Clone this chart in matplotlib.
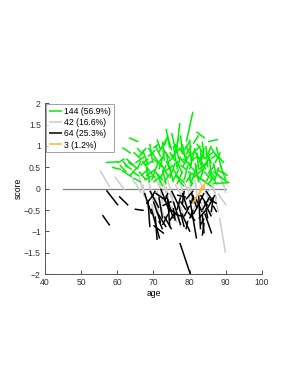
import matplotlib
matplotlib.use("Agg")
import matplotlib.pyplot as plt

plt.rcParams['font.family'] = ['Liberation Sans', 'DejaVu Sans']

# segments per group: (age0, score0, age1, score1)
green_segs = [
    (56.8, 0.61, 60.2, 0.63), (63.2, 1.19, 65.8, 1.10), (61.4, 0.96, 63.7, 0.83),
    (80.9, 1.80, 79.1, 1.10), (77.3, 1.53, 76.3, 0.83), (81.9, 1.33, 84.2, 1.18),
    (85.1, 1.10, 87.8, 1.15), (87.4, 0.98, 88.8, 0.47), (86.5, 0.12, 91.0, 0.14),
    (60.7, 0.55, 62.5, 0.39), (61.2, 0.43, 63.9, 0.28), (58.5, 0.50, 61.0, 0.45),
    (63.0, 0.62, 65.5, 0.48), (64.5, 0.85, 66.5, 0.70), (65.0, 0.60, 67.5, 0.75),
    (66.0, 0.40, 68.0, 0.20), (67.0, 0.90, 68.5, 0.55), (68.0, 0.30, 70.5, 0.45),
    (69.0, 1.05, 69.8, 0.60), (69.5, 0.20, 71.0, 0.55), (70.0, 0.70, 72.5, 0.50),
    (70.5, 1.00, 72.0, 0.75), (71.0, 0.35, 72.5, 0.05), (71.5, 0.85, 73.5, 1.15),
    (72.0, 0.60, 74.0, 0.30), (72.5, 1.10, 73.0, 0.65), (73.0, 0.40, 75.5, 0.55),
    (73.5, 0.85, 74.5, 0.45), (74.0, 1.20, 75.0, 0.90), (74.5, 0.25, 76.0, 0.60),
    (75.0, 0.75, 77.5, 0.95), (75.5, 1.00, 76.5, 0.50), (76.0, 0.30, 78.5, 0.15),
    (76.5, 0.65, 78.0, 0.35), (77.0, 0.95, 79.5, 0.70), (77.5, 1.25, 78.0, 0.80),
    (78.0, 0.50, 80.0, 0.80), (78.5, 0.20, 79.5, 0.55), (79.0, 1.00, 81.0, 0.65),
    (79.5, 0.40, 82.0, 0.30), (80.0, 1.15, 80.5, 0.55), (80.5, 0.80, 83.0, 1.00),
    (81.0, 0.25, 83.5, 0.45), (81.5, 0.60, 82.5, 0.15), (82.0, 1.05, 84.0, 0.80),
    (82.5, 0.45, 85.0, 0.60), (83.0, 0.90, 83.5, 0.35), (83.5, 0.20, 86.0, 0.05),
    (84.0, 0.70, 86.5, 0.85), (84.5, 1.00, 85.0, 0.50), (85.0, 0.35, 87.0, 0.55),
    (85.5, 0.75, 86.0, 0.20), (86.0, 0.95, 88.0, 0.70), (86.5, 0.40, 89.0, 0.25),
    (87.0, 0.60, 88.5, 0.85), (88.0, 0.30, 90.5, 0.15), (67.5, 0.55, 70.0, 0.65),
    (68.5, 0.75, 70.5, 0.90), (66.5, 0.30, 68.5, 0.45), (64.0, 0.40, 66.0, 0.30),
    (62.5, 0.70, 64.5, 0.55), (60.0, 0.60, 62.0, 0.70), (65.5, 0.95, 67.0, 0.80),
    (70.0, 0.15, 72.0, 0.30), (71.5, 0.45, 73.0, 0.85), (73.0, 0.15, 74.5, 0.35),
    (74.0, 0.60, 76.0, 0.80), (75.5, 0.45, 77.0, 0.25), (76.0, 0.85, 77.0, 1.20),
    (77.5, 0.55, 79.0, 0.45), (78.5, 0.90, 80.0, 1.10), (79.0, 0.15, 80.5, 0.35),
    (80.0, 0.45, 81.5, 0.95), (81.5, 0.85, 83.0, 0.65), (82.0, 0.30, 84.5, 0.15),
    (83.0, 0.55, 84.0, 0.95), (84.0, 0.40, 85.5, 0.25), (85.0, 0.80, 86.0, 1.00),
    (86.5, 0.60, 87.5, 0.30), (87.5, 0.45, 89.5, 0.35), (72.5, 0.95, 74.5, 0.70),
    (73.5, 1.40, 74.5, 0.95), (75.0, 1.30, 76.0, 0.95), (71.0, 1.15, 72.0, 0.90),
    (69.5, 0.85, 71.5, 0.60), (68.0, 0.50, 69.0, 0.15), (67.0, 0.65, 69.0, 0.40),
    (66.0, 0.75, 68.0, 0.95), (64.5, 0.25, 66.5, 0.15), (76.5, 0.10, 78.0, 0.40),
    (78.0, 0.70, 80.5, 0.55), (80.5, 0.15, 82.0, 0.55), (82.5, 0.75, 84.5, 0.45),
    (84.5, 0.15, 86.0, 0.40), (86.0, 0.30, 87.5, 0.10), (88.5, 0.55, 90.0, 0.20),
    (74.5, 0.50, 75.5, 0.15), (72.0, 0.25, 73.5, 0.55), (70.5, 0.40, 72.5, 0.20),
    (79.5, 0.60, 81.5, 0.40), (81.0, 1.05, 82.5, 1.25), (83.5, 1.10, 84.0, 0.70),
    (77.0, 0.75, 78.5, 0.60), (62.0, 0.55, 64.0, 0.45), (63.5, 0.30, 65.5, 0.50),
    (65.5, 0.45, 66.5, 0.65), (61.5, 0.65, 63.0, 0.50), (66.5, 0.55, 68.5, 0.70),
    (68.5, 0.95, 70.0, 0.80), (69.0, 0.40, 70.5, 0.25), (71.0, 0.55, 72.5, 0.75),
    (72.5, 0.45, 73.5, 0.10), (73.5, 0.65, 75.0, 0.35), (74.5, 0.85, 76.0, 0.65),
    (75.5, 0.20, 77.0, 0.45), (76.5, 0.45, 77.5, 0.75), (77.0, 0.20, 78.5, 0.05),
    (78.0, 1.05, 79.0, 0.60), (79.0, 0.80, 80.5, 1.00), (79.5, 0.25, 81.0, 0.10),
    (80.5, 0.65, 82.0, 0.75), (81.5, 0.40, 83.0, 0.20), (82.0, 0.85, 82.5, 0.45),
    (83.0, 0.25, 84.5, 0.60), (84.0, 0.55, 85.5, 0.70), (84.5, 0.85, 86.0, 0.60),
    (85.5, 0.45, 87.0, 0.25), (86.0, 0.70, 87.5, 0.80), (87.0, 0.20, 88.0, 0.50),
    (88.0, 0.75, 89.5, 0.60), (89.0, 0.40, 90.5, 0.30), (70.0, 0.95, 71.5, 1.05),
    (73.0, 1.00, 74.0, 1.25), (76.0, 1.05, 77.0, 0.70), (80.0, 0.35, 80.5, 0.05),
    (82.5, 0.60, 83.5, 0.80), (67.5, 0.20, 69.5, 0.30), (85.0, 0.10, 86.5, 0.25),
]

gray_segs = [
    (55.2, 0.43, 57.9, 0.04), (59.3, 0.28, 62.1, -0.04), (87.8, -0.11, 90.1, -0.39),
    (88.3, -0.68, 89.9, -1.50), (66.0, 0.30, 67.5, -0.20), (67.0, 0.10, 68.5, -0.45),
    (68.0, 0.40, 70.0, -0.30), (69.0, 0.05, 71.0, -0.60), (70.0, 0.30, 72.0, 0.00),
    (71.0, -0.05, 73.0, -0.70), (72.0, 0.35, 73.5, -0.10), (73.0, -0.20, 75.0, -0.55),
    (74.0, 0.20, 75.5, -0.30), (75.0, -0.40, 76.5, -0.80), (76.0, 0.10, 78.0, -0.20),
    (77.0, -0.30, 78.5, -0.65), (78.0, 0.25, 79.5, -0.05), (79.0, -0.45, 80.5, -0.60),
    (80.0, 0.10, 81.0, -0.35), (81.0, -0.50, 82.5, -0.20), (82.0, 0.30, 83.5, 0.05),
    (83.0, -0.30, 84.5, -0.65), (84.0, 0.05, 85.5, -0.35), (85.0, -0.50, 86.5, -0.60),
    (86.0, 0.20, 87.5, -0.25), (87.0, -0.20, 88.0, -0.55), (88.0, 0.35, 89.5, 0.05),
    (89.0, 0.20, 90.0, -0.10), (65.0, 0.15, 66.5, -0.10), (63.5, 0.35, 65.0, 0.10),
    (70.5, -0.20, 71.5, -0.55), (73.5, 0.05, 74.5, -0.40), (76.5, -0.55, 77.5, -0.90),
    (79.5, 0.05, 80.0, -0.30), (82.5, -0.55, 83.5, -0.80), (84.5, -0.10, 86.0, 0.00),
    (85.5, 0.15, 87.0, -0.10), (71.5, 0.20, 72.5, -0.35), (69.5, -0.35, 70.5, -0.70),
    (74.5, -0.10, 76.0, -0.45), (77.5, 0.15, 78.5, -0.35), (81.5, 0.20, 82.0, -0.15),
]

black_segs = [
    (57.0, -0.04, 60.2, -0.39), (60.5, -0.18, 63.0, -0.39), (64.8, -0.48, 67.3, -0.51),
    (55.9, -0.62, 57.9, -0.86), (77.3, -1.27, 80.2, -2.00), (69.4, -0.47, 71.7, -1.17),
    (70.0, -0.86, 72.9, -1.05), (80.1, -0.27, 81.9, -1.17), (84.2, -0.58, 86.1, -1.05),
    (77.8, -0.58, 80.1, -1.01), (67.5, -0.10, 69.5, -0.60), (68.0, -0.35, 70.0, -0.15),
    (69.0, -0.05, 71.5, -0.45), (70.0, -0.30, 72.0, -0.80), (70.5, -0.10, 73.0, -0.25),
    (71.0, -0.55, 73.5, -0.90), (71.5, -0.20, 72.5, -0.70), (72.0, 0.00, 74.5, -0.55),
    (72.5, -0.40, 75.0, -0.30), (73.0, -0.65, 75.0, -0.95), (73.5, -0.15, 75.5, -0.70),
    (74.0, -0.45, 76.5, -0.60), (74.5, -0.75, 76.0, -0.55), (75.0, -0.05, 77.0, -0.40),
    (75.5, -0.30, 77.5, -0.85), (76.0, -0.60, 78.0, -0.65), (76.5, -0.15, 79.0, -0.20),
    (77.0, -0.40, 78.5, -0.90), (78.0, -0.10, 79.5, -0.50), (78.5, -0.65, 80.0, -0.40),
    (79.0, -0.25, 81.0, -0.05), (79.5, -0.55, 81.5, -0.75), (80.5, -0.10, 82.0, -0.45),
    (81.0, -0.60, 83.0, -0.30), (81.5, -0.20, 83.5, -0.55), (82.0, -0.45, 84.0, -0.10),
    (82.5, -0.70, 84.5, -0.50), (83.0, -0.15, 85.0, -0.40), (83.5, -0.50, 85.5, -0.20),
    (84.0, -0.30, 86.0, -0.65), (84.5, -0.05, 86.5, -0.30), (85.0, -0.45, 87.0, -0.15),
    (85.5, -0.25, 87.5, -0.35), (86.0, -0.55, 86.5, -0.20), (82.5, -0.15, 83.0, -0.95),
    (83.5, -0.60, 84.0, -1.05), (74.0, -0.25, 74.5, -0.90), (72.5, -0.85, 74.0, -0.60),
    (68.5, -0.30, 69.0, -0.90), (70.5, -0.65, 71.0, -1.20), (76.5, -0.50, 77.5, -0.20),
    (80.0, -0.70, 81.0, -0.50), (78.5, -0.05, 78.0, -0.35), (81.0, -0.15, 80.5, -0.35),
    (79.5, -0.75, 79.0, -0.95), (85.0, -0.70, 84.5, -0.45), (73.0, -0.30, 74.0, -0.10),
    (75.5, -0.45, 76.0, -0.75), (71.5, -0.75, 72.5, -0.95), (77.5, -0.30, 79.0, -0.50),
    (86.5, -0.40, 87.5, -0.55), (69.5, -0.20, 70.5, -0.05), (83.0, -0.85, 84.0, -0.70),
    (84.0, -0.80, 83.5, -1.10),
]

orange_segs = [
    (80.8, -0.35, 83.5, 0.00), (81.5, -0.25, 84.2, 0.08), (82.6, -0.05, 84.8, 0.17),
]

legend_labels = ['144 (56.9%)', '42 (16.6%)', '64 (25.3%)', '3 (1.2%)']
colors = ['#00ee00', '#cccccc', 'black', '#ffb733']
zero_line_x = [45, 90]

xticks = [40, 50, 60, 70, 80, 90, 100]
yticks = [-2, -1.5, -1, -0.5, 0, 0.5, 1, 1.5, 2]

fig = plt.figure(figsize=(2.98, 3.85), dpi=100)
ax = fig.add_axes([0.151, 0.288, 0.728, 0.444])

groups = [green_segs, gray_segs, black_segs, orange_segs]
zorders = [3, 2, 4, 5]
handles = []
for segs, c, z, lab in zip(groups, colors, zorders, legend_labels):
    h = None
    for (x0, y0, x1, y1) in segs:
        h, = ax.plot([x0, x1], [y0, y1], color=c, lw=1.1, zorder=z,
                     solid_capstyle='butt')
    h.set_label(lab)
    handles.append(h)

ax.plot(zero_line_x, [0, 0], color='#808080', lw=0.9, zorder=1)

fs = 6.2
ax.set_xlim(40, 100)
ax.set_ylim(-2, 2)
ax.set_xticks(xticks)
ax.set_yticks(yticks)
ax.set_yticklabels([('%g' % v).replace('-', '\u2212') for v in yticks])
ax.tick_params(direction='in', length=3, width=0.6, labelsize=fs, colors='#333333', pad=3)
for s in ['top', 'right']:
    ax.spines[s].set_visible(False)
for s in ['left', 'bottom']:
    ax.spines[s].set_color('#555555')
    ax.spines[s].set_linewidth(0.7)

ax.set_xlabel('age', fontsize=fs, labelpad=1)
ax.set_ylabel('score', fontsize=fs, labelpad=1)

leg = ax.legend(handles=handles, loc='upper left', fontsize=fs, frameon=True,
                fancybox=False, handlelength=1.5, handletextpad=0.3,
                borderpad=0.3, labelspacing=0.25, borderaxespad=0.15)
leg.get_frame().set_edgecolor('#888888')
leg.get_frame().set_linewidth(0.7)

fig.savefig('out.png', dpi=100)
